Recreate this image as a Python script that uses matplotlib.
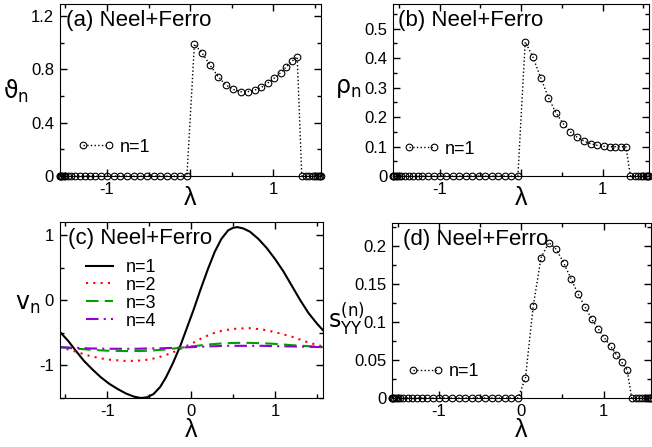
import numpy as np
import matplotlib
matplotlib.use("Agg")
import matplotlib.pyplot as plt
from matplotlib.ticker import MultipleLocator

plt.rcParams['font.family'] = ['Liberation Sans', 'DejaVu Sans']
plt.rcParams['mathtext.fontset'] = 'dejavusans'
plt.rcParams['axes.unicode_minus'] = False

# lambda grid used in panels (a), (b), (d)
lam_zero_left = [-1.5708, -1.565, -1.555, -1.54, -1.52, -1.50, -1.47, -1.43, -1.38,
                 -1.33, -1.27, -1.21, -1.14, -1.07, -1.00, -0.92, -0.84, -0.76,
                 -0.68, -0.60, -0.52, -0.44, -0.36, -0.28, -0.20, -0.12, -0.04]
lam_band = [0.05, 0.145, 0.24, 0.335, 0.425, 0.515, 0.605, 0.69, 0.775, 0.855,
            0.935, 1.01, 1.085, 1.155, 1.22, 1.285]
lam_zero_right = [1.34, 1.39, 1.43, 1.47, 1.50, 1.525, 1.545, 1.56, 1.5708]

theta_band = [0.99, 0.92, 0.83, 0.745, 0.685, 0.65, 0.633, 0.633, 0.645, 0.665,
              0.70, 0.735, 0.775, 0.82, 0.86, 0.895]
rho_band = [0.455, 0.403, 0.333, 0.266, 0.215, 0.178, 0.150, 0.131, 0.118, 0.110,
            0.104, 0.101, 0.100, 0.100, 0.100, 0.100]
syy_band = [0.026, 0.121, 0.185, 0.205, 0.196, 0.178, 0.157, 0.137, 0.120, 0.104,
            0.091, 0.079, 0.068, 0.057, 0.047, 0.037]

# panel (c)
lam_v1 = [-1.5708, -1.47, -1.38, -1.28, -1.18, -1.08, -0.98, -0.88, -0.78, -0.68, -0.6,
          -0.53, -0.45, -0.37, -0.3, -0.22, -0.13, -0.05, 0.03, 0.11, 0.2, 0.28, 0.36,
          0.44, 0.5, 0.55, 0.62, 0.7, 0.8, 0.9, 1.0, 1.1, 1.2, 1.3, 1.4, 1.5, 1.5708]
v1 = [-0.48, -0.62, -0.77, -0.93, -1.06, -1.18, -1.28, -1.36, -1.43, -1.48, -1.50,
      -1.49, -1.44, -1.33, -1.18, -0.97, -0.70, -0.42, -0.14, 0.16, 0.48, 0.74, 0.94,
      1.07, 1.11, 1.12, 1.10, 1.05, 0.94, 0.80, 0.63, 0.44, 0.22, 0.0, -0.20, -0.36, -0.46]
lam_c = [-1.5708, -1.4, -1.2, -1.0, -0.8, -0.65, -0.5, -0.4, -0.3, -0.2, -0.1, 0.0,
         0.1, 0.2, 0.3, 0.4, 0.55, 0.7, 0.85, 1.0, 1.2, 1.4, 1.5708]
v2 = [-0.72, -0.78, -0.86, -0.91, -0.93, -0.93, -0.91, -0.88, -0.84, -0.79, -0.73, -0.67,
      -0.60, -0.54, -0.49, -0.46, -0.435, -0.43, -0.45, -0.49, -0.56, -0.65, -0.71]
v3 = [-0.72, -0.74, -0.76, -0.775, -0.78, -0.78, -0.775, -0.765, -0.755, -0.74, -0.725, -0.71,
      -0.695, -0.68, -0.67, -0.66, -0.655, -0.655, -0.66, -0.67, -0.69, -0.705, -0.72]
v4 = [-0.72, -0.73, -0.74, -0.745, -0.745, -0.745, -0.74, -0.74, -0.735, -0.73, -0.725, -0.72,
      -0.715, -0.71, -0.705, -0.70, -0.70, -0.70, -0.70, -0.705, -0.71, -0.715, -0.72]

lam = np.array(lam_zero_left + lam_band + lam_zero_right)
zl = [0.0] * len(lam_zero_left)
zr = [0.0] * len(lam_zero_right)

fig = plt.figure(figsize=(6.52, 4.47), dpi=100)
axa = fig.add_axes([0.0913, 0.606, 0.401, 0.385])
axb = fig.add_axes([0.6028, 0.606, 0.393, 0.385])
axc = fig.add_axes([0.0913, 0.1096, 0.404, 0.394])
axd = fig.add_axes([0.601, 0.1096, 0.397, 0.392])


def style(ax, ymaj, ymin, xlab_y, hide_zero=False):
    ax.set_xlim(-np.pi / 2, np.pi / 2)
    ax.xaxis.set_major_locator(MultipleLocator(1))
    ax.xaxis.set_minor_locator(MultipleLocator(0.5))
    ax.yaxis.set_major_locator(MultipleLocator(ymaj))
    ax.yaxis.set_minor_locator(MultipleLocator(ymin))
    ax.set_xticks([-1, 0, 1])
    ax.set_xticklabels(['-1', '' if hide_zero else '0', '1'])
    ax.tick_params(which='both', direction='in', top=True, right=True, labelsize=12, pad=4)
    ax.tick_params(which='major', length=5, width=1)
    ax.tick_params(which='minor', length=3, width=1)
    ax.set_xlabel('λ', fontsize=18)
    ax.xaxis.set_label_coords(0.5, xlab_y)


def dotted(ax, y, lx, ly):
    ax.plot(lam, y, ls=':', color='k', lw=1, marker='o', ms=4.8, mfc='none',
            mec='k', mew=0.8, label='n=1', clip_on=False, zorder=3)
    ax.legend(loc='center left', bbox_to_anchor=(lx, ly), frameon=False, fontsize=13,
              numpoints=2, handlelength=2.0, handletextpad=0.3, borderpad=0, borderaxespad=0)


dotted(axa, zl + theta_band + zr, 0.07, 0.169)
style(axa, 0.4, 0.2, -0.06, hide_zero=True)
axa.set_ylim(0, 1.29)
axa.set_yticks([0, 0.4, 0.8, 1.2])
axa.set_yticklabels(['0', '0.4', '0.8', '1.2'])
axa.set_ylabel(r'$\mathrm{\vartheta}_\mathrm{n}$', fontsize=17, rotation=0, ha='center', va='center')
axa.yaxis.set_label_coords(-0.165, 0.49)
axa.text(0.026, 0.907, '(a) Neel+Ferro', transform=axa.transAxes, fontsize=16, va='center')

dotted(axb, zl + rho_band + zr, 0.04, 0.157)
style(axb, 0.1, 0.05, -0.06, hide_zero=True)
axb.set_ylim(0, 0.583)
axb.set_yticks([0, 0.1, 0.2, 0.3, 0.4, 0.5])
axb.set_yticklabels(['0', '0.1', '0.2', '0.3', '0.4', '0.5'])
axb.set_ylabel(r'$\mathrm{\rho}_\mathrm{n}$', fontsize=17, rotation=0, ha='center', va='center')
axb.yaxis.set_label_coords(-0.176, 0.51)
axb.text(0.02, 0.907, '(b) Neel+Ferro', transform=axb.transAxes, fontsize=16, va='center')

axc.plot(lam_v1, v1, color='k', lw=1.5, label='n=1')
axc.plot(lam_c, v2, color='red', lw=1.5, ls=(0, (1, 2.5)), label='n=2')
axc.plot(lam_c, v3, color='#00a000', lw=1.5, ls=(0, (6, 3)), label='n=3')
axc.plot(lam_c, v4, color='#9400d3', lw=1.5, ls=(0, (6, 2.5, 1, 2.5)), label='n=4')
style(axc, 1, 0.5, -0.115)
axc.set_ylim(-1.5, 1.2)
axc.set_yticks([-1, 0, 1])
axc.set_yticklabels(['-1', '0', '1'])
axc.set_ylabel(r'$\mathrm{v}_\mathrm{n}$', fontsize=17, rotation=0, ha='center', va='center')
axc.yaxis.set_label_coords(-0.122, 0.53)
axc.text(0.034, 0.907, '(c) Neel+Ferro', transform=axc.transAxes, fontsize=16, va='center')
axc.legend(loc='upper left', bbox_to_anchor=(0.1, 0.79), frameon=False, fontsize=13,
           handlelength=1.5, handletextpad=0.7, labelspacing=0.05, borderpad=0, borderaxespad=0)

dotted(axd, zl + syy_band + zr, 0.06, 0.152)
style(axd, 0.05, 0.025, -0.115)
axd.set_ylim(0, 0.231)
axd.set_yticks([0, 0.05, 0.1, 0.15, 0.2])
axd.set_yticklabels(['0', '0.05', '0.1', '0.15', '0.2'])
axd.set_ylabel(r'$\mathrm{s}_\mathrm{YY}^\mathrm{(n)}$', fontsize=17, rotation=0, ha='center', va='center')
axd.yaxis.set_label_coords(-0.178, 0.45)
axd.text(0.044, 0.903, '(d) Neel+Ferro', transform=axd.transAxes, fontsize=16, va='center')

fig.savefig('out.png', dpi=100)
